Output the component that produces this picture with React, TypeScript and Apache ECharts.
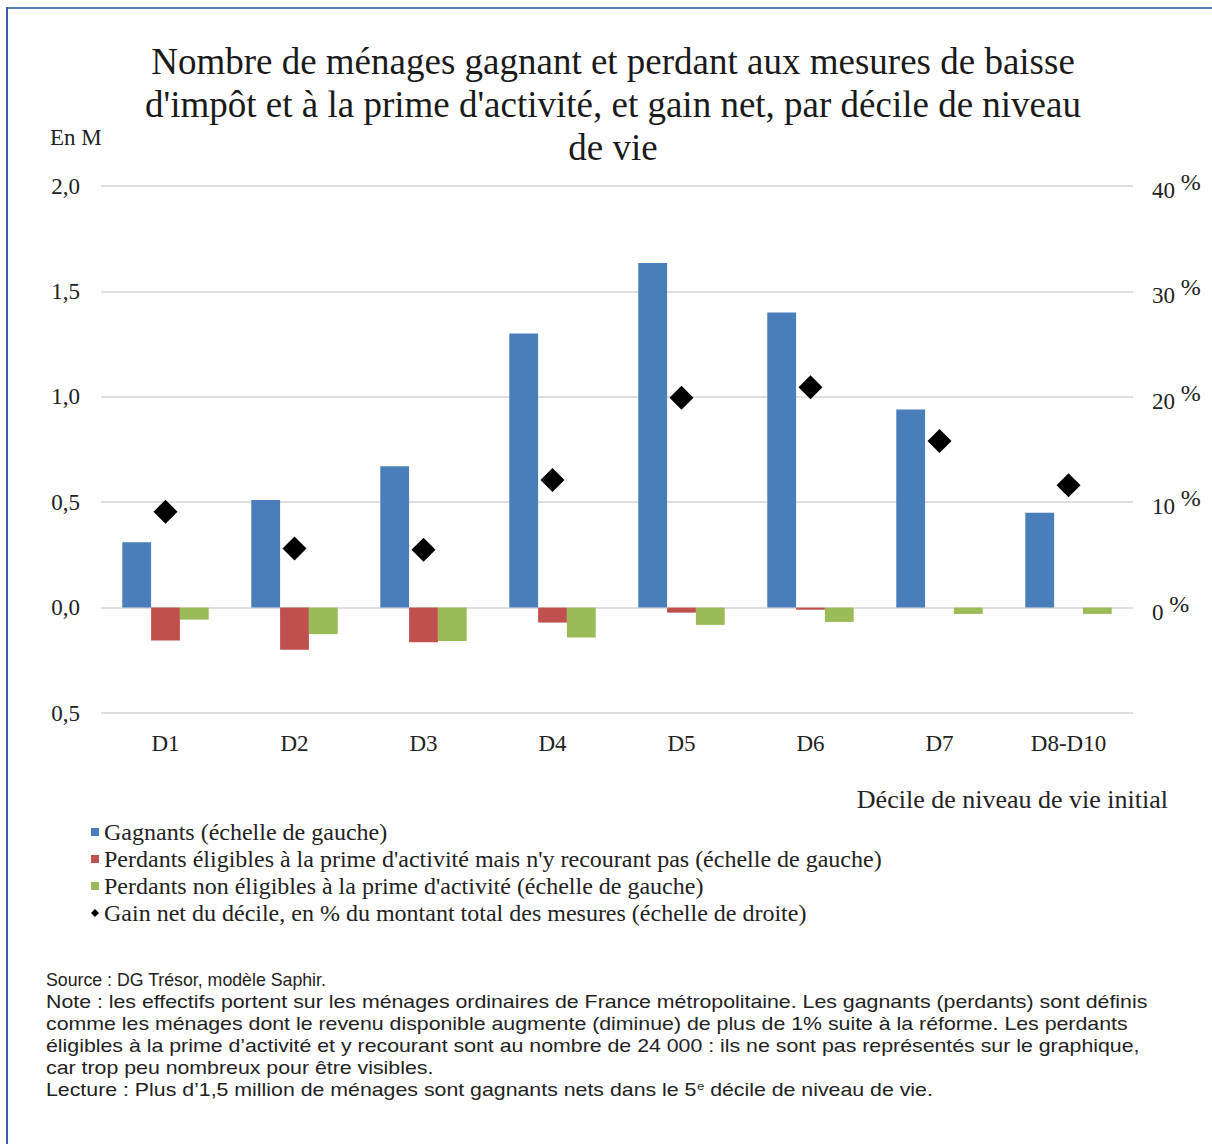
import React, { useEffect, useRef } from "react";
import * as echarts from "echarts";

const categories = ["D1", "D2", "D3", "D4", "D5", "D6", "D7", "D8-D10"];
const gagnants = [0.31, 0.51, 0.67, 1.3, 1.635, 1.4, 0.94, 0.45];
const perdantsEligibles = [-0.156, -0.2, -0.164, -0.071, -0.024, -0.01, 0, 0];
const perdantsNonEligibles = [-0.057, -0.126, -0.158, -0.142, -0.082, -0.068, -0.03, -0.03];
const gainNet = [9.1, 5.6, 5.5, 12.1, 19.9, 20.9, 15.8, 11.6];

const seriesNames = [
  "Gagnants (échelle de gauche)",
  "Perdants éligibles à la prime d'activité mais n'y recourant pas (échelle de gauche)",
  "Perdants non éligibles à la prime d'activité (échelle de gauche)",
  "Gain net du décile, en % du montant total des mesures (échelle de droite)",
];

const titleLines = [
  "Nombre de ménages gagnant et perdant aux mesures de baisse",
  "d'impôt et à la prime d'activité, et gain net, par décile de niveau",
  "de vie",
];

const noteLines = [
  "Source : DG Trésor, modèle Saphir.",
  "Note : les effectifs portent sur les ménages ordinaires de France métropolitaine. Les gagnants (perdants) sont définis",
  "comme les ménages dont le revenu disponible augmente (diminue) de plus de 1% suite à la réforme. Les perdants",
  "éligibles à la prime d’activité et y recourant sont au nombre de 24 000 : ils ne sont pas représentés sur le graphique,",
  "car trop peu nombreux pour être visibles.",
  "Lecture : Plus d’1,5 million de ménages sont gagnants nets dans le 5{sup|e} décile de niveau de vie.",
];

const SERIF = "'Liberation Serif', 'Times New Roman', serif";
const SANS = "'Liberation Sans', Arial, sans-serif";

export default function App() {
  const ref = useRef<HTMLDivElement>(null);
  useEffect(() => {
    if (!ref.current) return;
    const chart = echarts.init(ref.current, undefined, { renderer: "svg" });
    const graphics: any[] = [
      { type: "line", shape: { x1: 7, y1: 8, x2: 1212, y2: 8 }, style: { stroke: "#5a78b4", lineWidth: 2 } },
      { type: "line", shape: { x1: 7, y1: 7, x2: 7, y2: 1144 }, style: { stroke: "#3d5ca6", lineWidth: 2 } },
      {
        type: "text",
        x: 613,
        y: 40,
        style: {
          text: titleLines.join("\n"),
          fontFamily: SERIF,
          fontSize: 37,
          lineHeight: 43,
          fill: "#1a1a1a",
          textAlign: "center",
          textVerticalAlign: "top",
        },
      },
      {
        type: "text",
        x: 50,
        y: 137,
        style: { text: "En M", fontFamily: SERIF, fontSize: 23, fill: "#222", textVerticalAlign: "middle" },
      },
      {
        type: "text",
        x: 1168,
        y: 799,
        style: {
          text: "Décile de niveau de vie initial",
          fontFamily: SERIF,
          fontSize: 26,
          fill: "#222",
          textAlign: "right",
          textVerticalAlign: "middle",
        },
      },
    ];
    noteLines.forEach((t, i) => {
      graphics.push({
        type: "text",
        x: 46,
        y: 980 + i * 22,
        scaleX: i === 0 ? 0.986 : 1.185,
        style: {
          text: t,
          fontFamily: SANS,
          fontSize: 18,
          lineHeight: 22,
          fill: "#222",
          textVerticalAlign: "middle",
          rich: { sup: { fontFamily: SANS, fontSize: 11, lineHeight: 22, verticalAlign: "top", padding: [2, 0, 0, 0], fill: "#222" } },
        },
      });
    });

    const option: any = {
      animation: false,
      backgroundColor: "#ffffff",
      grid: { left: 101, right: 79, top: 186, bottom: 431, containLabel: false },
      legend: {
        orient: "vertical",
        left: 86,
        top: 815,
        itemGap: 3,
        itemWidth: 8,
        itemHeight: 8,
        textStyle: { fontFamily: SERIF, fontSize: 24, color: "#222" },
        data: [
          { name: seriesNames[0], icon: "rect" },
          { name: seriesNames[1], icon: "rect" },
          { name: seriesNames[2], icon: "rect" },
          { name: seriesNames[3], icon: "diamond" },
        ],
        selectedMode: false,
      },
      xAxis: {
        type: "category",
        data: categories,
        axisLine: { show: false },
        axisTick: { show: false },
        axisLabel: { fontFamily: SERIF, fontSize: 23, color: "#222", margin: 19 },
      },
      yAxis: [
        {
          type: "value",
          min: -0.5,
          max: 2.0,
          interval: 0.5,
          axisLine: { show: false },
          axisTick: { show: false },
          splitLine: { lineStyle: { color: "#d4d4d4", width: 1.5 } },
          axisLabel: {
            fontFamily: SERIF,
            fontSize: 23,
            color: "#222",
            margin: 21,
            formatter: (v: number) => Math.abs(v).toFixed(1).replace(".", ","),
          },
        },
        {
          type: "value",
          min: -10,
          max: 40,
          interval: 10,
          position: "right",
          axisLine: { show: false },
          axisTick: { show: false },
          splitLine: { show: false },
          axisLabel: {
            margin: 19,
            formatter: (v: number) => (v < 0 ? "" : `{n|${v} }{p|%}`),
            rich: {
              n: { fontFamily: SERIF, fontSize: 23, color: "#222", lineHeight: 32, verticalAlign: "bottom" },
              p: { fontFamily: SERIF, fontSize: 24, color: "#222", lineHeight: 24, verticalAlign: "top" },
            },
          },
        },
      ],
      series: [
        {
          name: seriesNames[0],
          type: "bar",
          data: gagnants,
          itemStyle: { color: "#4a7ebb" },
          barGap: "0%",
          barCategoryGap: "33%",
        },
        {
          name: seriesNames[1],
          type: "bar",
          data: perdantsEligibles,
          itemStyle: { color: "#c0504d" },
          barGap: "0%",
          barCategoryGap: "33%",
        },
        {
          name: seriesNames[2],
          type: "bar",
          data: perdantsNonEligibles,
          itemStyle: { color: "#9bbb59" },
          barGap: "0%",
          barCategoryGap: "33%",
        },
        {
          name: seriesNames[3],
          type: "scatter",
          yAxisIndex: 1,
          data: gainNet,
          symbol: "diamond",
          symbolSize: 24,
          itemStyle: { color: "#000000", opacity: 1 },
          z: 5,
        },
      ],
      graphic: graphics,
    };
    chart.setOption(option);
    return () => chart.dispose();
  }, []);
  return (
    <div
      ref={ref}
      style={{ position: "absolute", left: 0, top: 0, width: 1212, height: 1144, background: "#fff" }}
    />
  );
}
